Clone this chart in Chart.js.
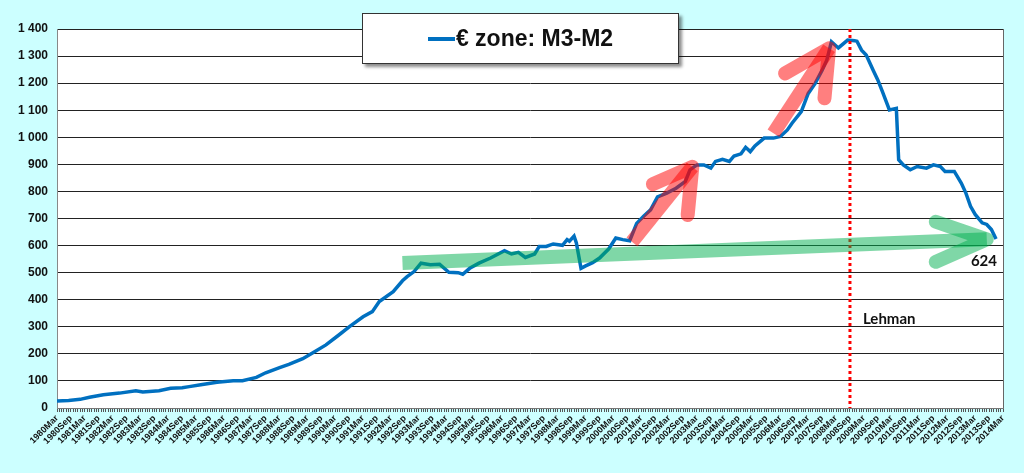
<!DOCTYPE html>
<html lang="en">
<head>
  <meta charset="UTF-8" />
  <title>€ zone: M3-M2</title>
  <script src="https://cdn.jsdelivr.net/npm/chart.js"></script>
  <style>
    body {
      margin: 0;
      background: #ccffff;
      font-family: 'Liberation Sans', Arial, sans-serif;
    }
    .wrap {
      position: relative;
      width: 1024px;
      height: 473px;
    }
    #legende {
      position: absolute;
      left: 362px;
      top: 13px;
      width: 315px;
      height: 49px;
      background: #fff;
      border: 1px solid #333;
      box-shadow: 3px 3px 3px rgba(0,0,0,0.45);
      display: flex;
      align-items: center;
      justify-content: center;
      font-weight: bold;
      font-size: 23px;
      color: #111;
    }
    #legende span.trait {
      display: inline-block;
      width: 27px;
      height: 4px;
      background: #0070c0;
      margin-right: 1px;
    }
  </style>
</head>
<body>
<div class="wrap">
  <canvas id="grafico"></canvas>
  <div id="legende"><span class="trait"></span>€ zone: M3-M2</div>
</div>

<script>
// readings (month, value) taken off the original chart
const dates = [
  '1980-03','1980-08','1981-01','1981-05','1981-11','1982-06','1983-01','1983-04','1983-11','1984-04',
  '1984-09','1984-12','1985-05','1985-12','1986-07','1986-11','1987-05','1987-09','1988-03','1988-07',
  '1989-01','1989-05','1989-11','1990-04','1990-09','1991-03','1991-07','1991-10','1992-04','1992-08',
  '1992-10','1993-01','1993-04','1993-08','1993-12','1994-04','1994-08','1994-10','1995-01','1995-05',
  '1995-10','1996-04','1996-07','1996-10','1997-01','1997-05','1997-07','1997-10','1998-01','1998-05',
  '1998-07','1998-08','1998-10','1998-11','1999-01','1999-03','1999-06','1999-09','2000-01','2000-04',
  '2000-07','2000-10','2001-01','2001-04','2001-07','2001-10','2002-02','2002-06','2002-10','2002-12',
  '2003-03','2003-06','2003-09','2003-11','2004-02','2004-05','2004-07','2004-10','2004-12','2005-02',
  '2005-04','2005-08','2005-12','2006-03','2006-06','2006-08','2006-12','2007-03','2007-06','2007-09',
  '2007-11','2008-01','2008-04','2008-08','2008-11','2008-12','2009-02','2009-04','2009-07','2009-09',
  '2009-11','2010-02','2010-05','2010-06','2010-08','2010-11','2011-02','2011-06','2011-09','2011-12',
  '2012-02','2012-06','2012-09','2012-11','2013-01','2013-03','2013-06','2013-08','2013-10','2013-12'
];
const m3m2 = [
  26, 28, 32, 40, 49, 55, 64, 59, 64, 73,
  75, 79, 86, 95, 101, 101, 113, 130, 149, 161,
  182, 202, 233, 266, 300, 337, 356, 393, 430, 470,
  485, 504, 535, 529, 531, 501, 500, 494, 516, 535,
  554, 581, 569, 575, 556, 569, 597, 597, 606, 601,
  622, 616, 635, 610, 516, 525, 537, 554, 588, 628,
  622, 618, 682, 708, 732, 780, 794, 812, 837, 880,
  898, 898, 886, 911, 919, 911, 931, 939, 963, 947,
  968, 997, 997, 1003, 1027, 1052, 1095, 1162, 1199, 1248,
  1285, 1353, 1330, 1359, 1357, 1355, 1322, 1304, 1248, 1212,
  1169, 1101, 1107, 917, 898, 880, 892, 886, 898, 892,
  874, 874, 831, 794, 745, 715, 684, 678, 659, 624
];

const moisNoms = ['Jan','Feb','Mar','Apr','May','Jun','Jul','Aug','Sep','Oct','Nov','Dec'];
const moisEtiquettes = ['Mar', 'Sep'];   // x labels every 6 months
const debutAxe = '1980-03';
const finAxe = '2014-03';
const yTicks = [0, 100, 200, 300, 400, 500, 600, 700, 800, 900, 1000, 1100, 1200, 1300, 1400];

const lehmanDate = '2008-09';
const dernierLabel = '624';

// arrows, in (date, value) space
const flecheVerte = { de: ['1992-08', 536], a: ['2013-08', 623], aile1: ['2011-10', 688], aile2: ['2011-10', 540] };
const flechesRouges = [
  { de: ['2000-11', 614], a: ['2003-01', 891], aile1: ['2001-08', 827], aile2: ['2002-11', 713] },
  { de: ['2005-12', 1015], a: ['2007-12', 1329], aile1: ['2006-05', 1236], aile2: ['2007-10', 1144] }
];

function idx(d) {
  const [a, m] = d.split('-').map(Number);
  return (a - 1980) * 12 + (m - 1);
}

function etiquetteMois(i) {
  const nom = moisNoms[i % 12];
  if (!moisEtiquettes.includes(nom)) return '';
  return (1980 + Math.floor(i / 12)) + nom;
}

function formatMilliers(v) {
  if (v < 1000) return String(v);
  return Math.floor(v / 1000) + ' ' + String(v % 1000).padStart(3, '0');
}

const points = dates.map((d, i) => ({ x: idx(d), y: m3m2[i] }));

function tracerFleche(ctx, xs, ys, f, couleur, epaisseur) {
  const P = p => [xs.getPixelForValue(idx(p[0])), ys.getPixelForValue(p[1])];
  const [x0, y0] = P(f.de), [x1, y1] = P(f.a), [xa, ya] = P(f.aile1), [xb, yb] = P(f.aile2);
  ctx.save();
  ctx.strokeStyle = couleur;
  ctx.lineWidth = epaisseur;
  ctx.lineJoin = 'round';
  ctx.lineCap = 'butt';
  ctx.beginPath();
  ctx.moveTo(x0, y0);
  ctx.lineTo(x1, y1);
  ctx.stroke();
  ctx.lineCap = 'round';
  ctx.beginPath();
  ctx.moveTo(xa, ya);
  ctx.lineTo(x1, y1);
  ctx.lineTo(xb, yb);
  ctx.stroke();
  ctx.restore();
}

const decorPlugin = {
  id: 'decor',
  beforeDraw(chart) {
    const { ctx, chartArea: c } = chart;
    ctx.save();
    ctx.fillStyle = '#fff';
    ctx.fillRect(c.left, c.top, c.right - c.left, c.bottom - c.top);
    ctx.restore();
  },
  afterDatasetsDraw(chart) {
    const { ctx, chartArea: c } = chart;
    const xs = chart.scales.x, ys = chart.scales.y;

    // Lehman
    const xl = xs.getPixelForValue(idx(lehmanDate));
    ctx.save();
    ctx.strokeStyle = '#ff0000';
    ctx.lineWidth = 3;
    ctx.setLineDash([3, 3]);
    ctx.beginPath();
    ctx.moveTo(xl, c.top);
    ctx.lineTo(xl, c.bottom);
    ctx.stroke();
    ctx.restore();

    tracerFleche(ctx, xs, ys, flecheVerte, 'rgba(0,176,80,0.5)', 14);
    flechesRouges.forEach(f => tracerFleche(ctx, xs, ys, f, 'rgba(255,0,0,0.5)', 14));

    ctx.save();
    ctx.fillStyle = '#111';
    ctx.font = 'bold 15px Lato, "Open Sans", sans-serif';
    ctx.textAlign = 'left';
    ctx.fillText('Lehman', xl + 13, ys.getPixelForValue(310));
    ctx.textAlign = 'right';
    ctx.fillText(dernierLabel, c.right - 6, ys.getPixelForValue(526));
    ctx.restore();

    // right border of plot
    ctx.save();
    ctx.strokeStyle = '#666';
    ctx.lineWidth = 1;
    ctx.beginPath();
    ctx.moveTo(c.right + 0.5, c.top);
    ctx.lineTo(c.right + 0.5, c.bottom);
    ctx.stroke();
    ctx.restore();
  }
};

const config = {
  type: 'line',
  data: {
    datasets: [{
      label: '€ zone: M3-M2',
      data: points,
      borderColor: '#0070c0',
      borderWidth: 3.5,
      pointRadius: 0,
      tension: 0,
      fill: false
    }]
  },
  options: {
    responsive: true,
    maintainAspectRatio: false,
    animation: false,
    layout: { padding: { top: 29, right: 21, left: 0, bottom: 0 } },
    plugins: {
      legend: { display: false },
      tooltip: { enabled: false }
    },
    scales: {
      x: {
        type: 'linear',
        min: idx(debutAxe),
        max: idx(finAxe),
        afterFit: s => { s.height = 65; },
        ticks: {
          stepSize: 1,
          autoSkip: false,
          maxTicksLimit: 1000,
          minRotation: 45,
          maxRotation: 45,
          padding: 1,
          color: '#111',
          font: { family: 'Liberation Sans, Arial, sans-serif', size: 9, weight: 'bold' },
          callback: v => etiquetteMois(v)
        },
        grid: { drawOnChartArea: false, drawTicks: true, tickLength: 4, color: '#555', lineWidth: 1 },
        border: { color: '#777', width: 1 }
      },
      y: {
        min: yTicks[0],
        max: yTicks[yTicks.length - 1],
        afterFit: s => { s.width = 57; },
        afterBuildTicks: s => { s.ticks = yTicks.map(v => ({ value: v })); },
        ticks: {
          padding: 9,
          color: '#111',
          font: { family: 'Liberation Sans, Arial, sans-serif', size: 12, weight: 'bold' },
          callback: v => formatMilliers(v)
        },
        grid: { color: '#222', lineWidth: 1, drawTicks: false },
        border: { color: '#888', width: 1 }
      }
    }
  },
  plugins: [decorPlugin]
};

new Chart(document.getElementById('grafico').getContext('2d'), config);
</script>
</body>
</html>
